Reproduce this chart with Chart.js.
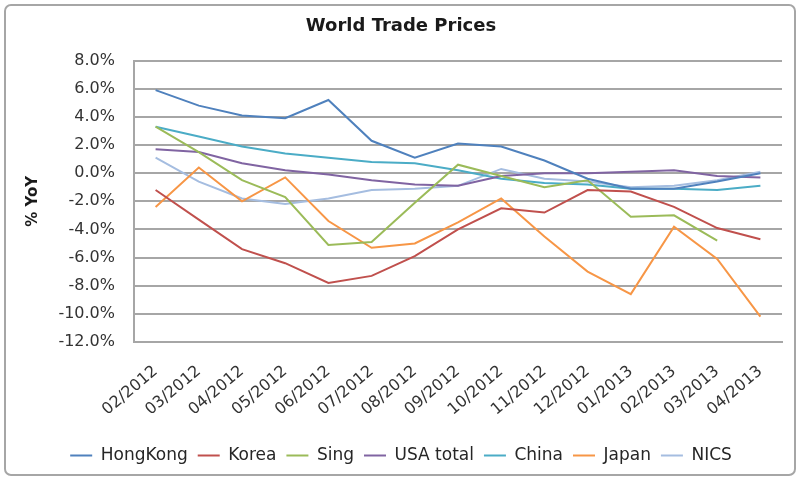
<!DOCTYPE html>
<html lang="en">
<head>
    <meta charset="UTF-8">
    <title>World Trade Prices</title>
    <script src="https://cdn.jsdelivr.net/npm/chart.js"></script>
    <style>
        * { box-sizing: border-box; }
        body, html { margin:0; padding:0; background:#fff; }
        #wrap { width:800px; height:482px; position:relative; }
        canvas { display:block; }
    </style>
</head>
<body>
    <div id="wrap"><canvas id="chart" width="800" height="482"></canvas></div>
    <script>
        // months on the x axis
        const months = ['02/2012','03/2012','04/2012','05/2012','06/2012','07/2012','08/2012',
            '09/2012','10/2012','11/2012','12/2012','01/2013','02/2013','03/2013','04/2013'];

        // % YoY per series
        const hongKong = [5.9, 4.8, 4.1, 3.9, 5.2, 2.3, 1.1, 2.1, 1.9, 0.9, -0.4, -1.1, -1.1, -0.6, 0.0];
        const korea    = [-1.2, -3.3, -5.4, -6.4, -7.8, -7.3, -5.9, -4.0, -2.5, -2.8, -1.2, -1.3, -2.4, -3.9, -4.7];
        const sing     = [3.3, 1.5, -0.5, -1.7, -5.1, -4.9, -2.1, 0.6, -0.2, -1.0, -0.5, -3.1, -3.0, -4.8, null];
        const usaTotal = [1.7, 1.5, 0.7, 0.2, -0.1, -0.5, -0.8, -0.9, -0.2, 0.0, 0.0, 0.1, 0.2, -0.2, -0.3];
        const china    = [3.3, 2.6, 1.9, 1.4, 1.1, 0.8, 0.7, 0.2, -0.4, -0.7, -0.8, -1.1, -1.1, -1.2, -0.9];
        const japan    = [-2.4, 0.4, -2.0, -0.3, -3.4, -5.3, -5.0, -3.5, -1.8, -4.5, -7.0, -8.6, -3.8, -6.1, -10.2];
        const nics     = [1.1, -0.6, -1.8, -2.2, -1.8, -1.2, -1.1, -0.9, 0.3, -0.4, -0.6, -1.0, -0.9, -0.5, 0.1];

        // y axis range
        const yMin = -12, yMax = 8, yStep = 2;

        const FONT = '"DejaVu Sans", Verdana, sans-serif';

        function series(label, data, color) {
            return {
                label, data,
                borderColor: color,
                backgroundColor: color,
                borderWidth: 2,
                pointRadius: 0,
                pointStyle: 'line',
                tension: 0,
                spanGaps: false
            };
        }

        // grey rounded frame round the whole picture
        const framePlugin = {
            id: 'frame',
            beforeDraw(chart) {
                const c = chart.ctx;
                c.save();
                c.fillStyle = '#fff';
                c.fillRect(0, 0, chart.width, chart.height);
                c.strokeStyle = '#a6a6a6';
                c.lineWidth = 2;
                c.beginPath();
                c.roundRect(5, 5, chart.width - 10, chart.height - 12, 6);
                c.stroke();
                c.restore();
            }
        };

        new Chart(document.getElementById('chart'), {
            type: 'line',
            data: {
                labels: months,
                datasets: [
                    series('HongKong', hongKong, '#4f81bd'),
                    series('Korea', korea, '#c0504d'),
                    series('Sing', sing, '#9bbb59'),
                    series('USA total', usaTotal, '#8064a2'),
                    series('China', china, '#4bacc6'),
                    series('Japan', japan, '#f79646'),
                    series('NICS', nics, '#a5bde0')
                ]
            },
            options: {
                responsive: false,
                animation: false,
                devicePixelRatio: 1,
                layout: { padding: { left: 20, right: 18, top: 10, bottom: 8 } },
                plugins: {
                    title: {
                        display: true,
                        text: 'World Trade Prices',
                        color: '#1a1a1a',
                        font: { family: FONT, size: 18, weight: 'bold' },
                        padding: { top: 6, bottom: 23 }
                    },
                    legend: {
                        position: 'bottom',
                        labels: {
                            usePointStyle: true,
                            pointStyleWidth: 22,
                            boxHeight: 10,
                            padding: 10,
                            color: '#262626',
                            font: { family: FONT, size: 17 }
                        }
                    },
                    tooltip: { enabled: false }
                },
                scales: {
                    x: {
                        offset: true,
                        grid: { display: false, drawTicks: false },
                        border: { display: true, color: '#a6a6a6', width: 2 },
                        ticks: {
                            minRotation: 40, maxRotation: 40,
                            autoSkip: false,
                            padding: 20,
                            color: '#333333',
                            font: { family: FONT, size: 16 }
                        },
                        afterFit(scale) { scale.height = 95; }
                    },
                    y: {
                        min: yMin, max: yMax,
                        grid: { color: '#a6a6a6', lineWidth: 2, drawTicks: false },
                        border: { display: true, color: '#a6a6a6', width: 2 },
                        ticks: {
                            stepSize: yStep,
                            padding: 19,
                            color: '#333333',
                            font: { family: FONT, size: 16 },
                            callback: v => v.toFixed(1) + '%'
                        },
                        title: {
                            display: true,
                            text: '% YoY',
                            color: '#1a1a1a',
                            font: { family: FONT, size: 15, weight: 'bold' },
                            padding: { top: 4, bottom: 0 }
                        },
                        afterFit(scale) { scale.width = 114; }
                    }
                }
            },
            plugins: [framePlugin]
        });
    </script>
</body>
</html>
